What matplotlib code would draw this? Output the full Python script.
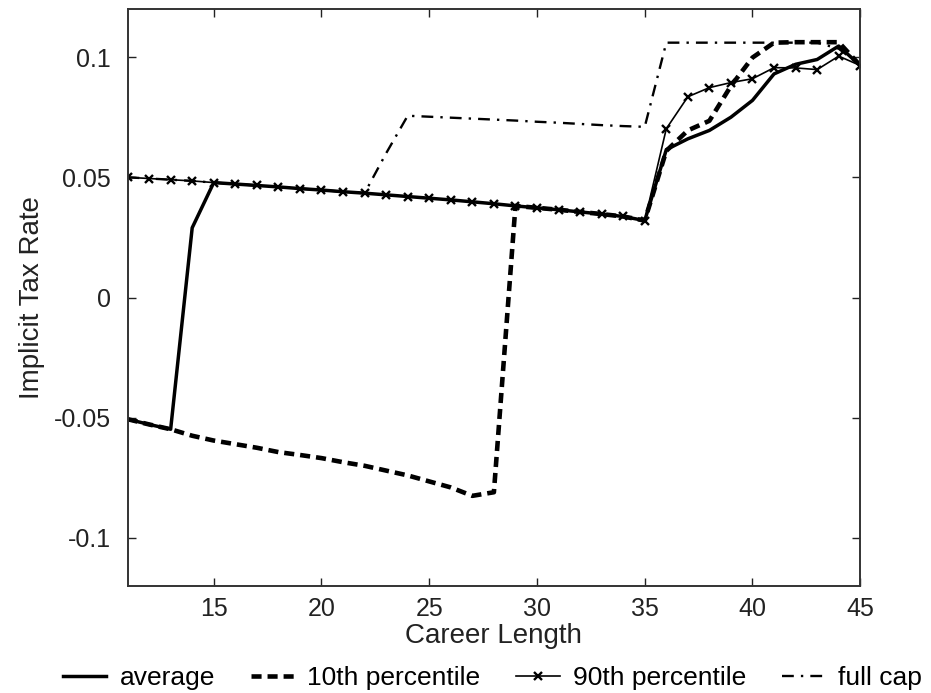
import matplotlib
matplotlib.use("Agg")
import matplotlib.pyplot as plt

plt.rcParams['font.family'] = ['Liberation Sans', 'DejaVu Sans']

career = list(range(11, 46))

average = [-0.0506, -0.0528, -0.0548, 0.0290, 0.0478, 0.0472, 0.0466, 0.0460, 0.0453, 0.0447,
           0.0440, 0.0434, 0.0427, 0.0420, 0.0413, 0.0406, 0.0398, 0.0390, 0.0381, 0.0373,
           0.0365, 0.0356, 0.0347, 0.0337, 0.0320,
           0.0615, 0.0660, 0.0695, 0.0750, 0.0820, 0.0930, 0.0970, 0.0990, 0.1046, 0.0965]

p10 = [-0.0506, -0.0528, -0.0548, -0.0575, -0.0595, -0.0610, -0.0625, -0.0643, -0.0655, -0.0668,
       -0.0685, -0.0700, -0.0720, -0.0740, -0.0765, -0.0790, -0.0825, -0.0810, 0.0381, 0.0373,
       0.0365, 0.0356, 0.0347, 0.0337, 0.0320,
       0.0610, 0.0695, 0.0735, 0.0880, 0.0998, 0.1060, 0.1062, 0.1062, 0.1062, 0.0965]

p90 = [0.0500, 0.0495, 0.0490, 0.0485, 0.0478, 0.0472, 0.0466, 0.0460, 0.0453, 0.0447,
       0.0440, 0.0434, 0.0427, 0.0420, 0.0413, 0.0406, 0.0398, 0.0390, 0.0381, 0.0373,
       0.0365, 0.0356, 0.0347, 0.0337, 0.0320,
       0.0702, 0.0835, 0.0873, 0.0894, 0.0910, 0.0956, 0.0955, 0.0948, 0.1004, 0.0965]

fullcap = [0.0500, 0.0495, 0.0490, 0.0485, 0.0478, 0.0472, 0.0466, 0.0460, 0.0453, 0.0447,
           0.0440, 0.0434, 0.0600, 0.0756, 0.0752, 0.0748, 0.0744, 0.0740, 0.0736, 0.0731,
           0.0727, 0.0722, 0.0717, 0.0713, 0.0710,
           0.1060, 0.1060, 0.1060, 0.1060, 0.1060, 0.1060, 0.1060, 0.1060, 0.1035, 0.0965]

xticks = [15, 20, 25, 30, 35, 40, 45]
yticks = [-0.1, -0.05, 0, 0.05, 0.1]
ytick_labels = ['-0.1', '-0.05', '0', '0.05', '0.1']

fig = plt.figure(figsize=(9.31, 6.93), dpi=100)
ax = fig.add_axes([0.137, 0.1544, 0.787, 0.8326])

ax.plot(career, average, color='black', lw=2.5, label='average')
ax.plot(career, p10, color='black', lw=3.3, ls=(0, (2.2, 1.3)), label='10th percentile')
ax.plot(career, p90, color='black', lw=1.2, marker='x', ms=5.5, mew=1.7, label='90th percentile')
ax.plot(career, fullcap, color='black', lw=1.7, ls=(0, (5, 3, 1, 3)), label='full cap')

ax.set_xlim(11, 45)
ax.set_ylim(-0.12, 0.12)
ax.set_xticks(xticks)
ax.set_yticks(yticks)
ax.set_yticklabels(ytick_labels)
ax.tick_params(direction='in', top=True, right=True, labelsize=18, length=6, width=1, colors='#222222')
ax.tick_params(axis='x', pad=8)
ax.tick_params(axis='y', pad=12)
for s in ax.spines.values():
    s.set_linewidth(1.4)
    s.set_color('#333333')

ax.set_xlabel('Career Length', fontsize=20, labelpad=1, color='#222222')
ax.set_ylabel('Implicit Tax Rate', fontsize=20, labelpad=6, color='#222222')

fig.legend(loc='center', bbox_to_anchor=(0.529, 0.022), ncol=4, frameon=False, fontsize=19,
           handlelength=1.65, handletextpad=0.5, columnspacing=1.35)

fig.savefig('out.png', dpi=100)
